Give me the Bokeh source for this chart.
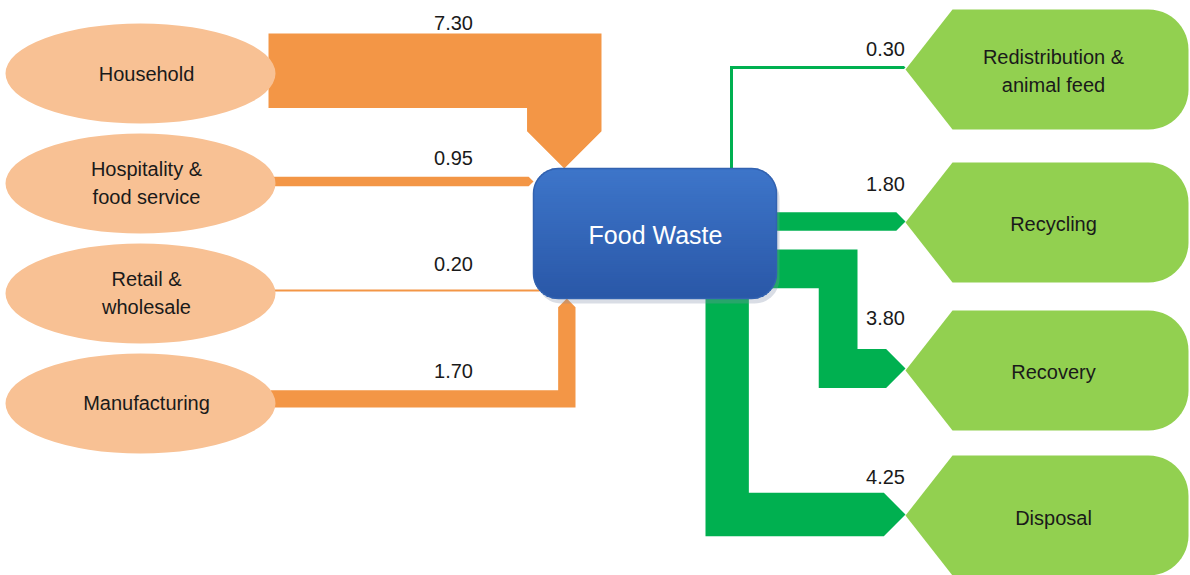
import numpy as np
from bokeh.plotting import figure
from bokeh.models import Range1d
from bokeh.embed import file_html
from bokeh.resources import INLINE
from bokeh.core.properties import value

# ---------------- data ----------------
sources = ["Household", "Hospitality &\nfood service", "Retail &\nwholesale", "Manufacturing"]
source_values = [7.30, 0.95, 0.20, 1.70]
destinations = ["Redistribution &\nanimal feed", "Recycling", "Recovery", "Disposal"]
destination_values = [0.30, 1.80, 3.80, 4.25]
hub_label = "Food Waste"

# ---------------- layout / style ----------------
W, H = 1190, 575
K = 10.2                      # px per unit of flow
FONT = value("Liberation Sans")
ORANGE, PEACH = "#f39646", "#f8c194"
GREEN, LIGHTGREEN = "#00b050", "#92d050"
TXT = "#1a1a1a"

src_y = [73, 183, 293, 403]          # ellipse centres
src_cx, src_w, src_h = 140, 270, 100
box = (533, 168, 776, 298)            # hub x0, y0, x1, y1
dst_y = [69, 222, 370, 515]
dst_tip, dst_d, dst_right, dst_h, dst_r = 905, 47, 1188, 120, 40

p = figure(width=W, height=H, x_range=Range1d(0, W), y_range=Range1d(H, 0),
           output_backend="svg", toolbar_location=None, min_border=0,
           x_axis_location=None, y_axis_location=None)
p.grid.visible = False
p.outline_line_color = None


def arc(cx, cy, r, a0, a1, n=14):
    t = np.radians(np.linspace(a0, a1, n))
    return list(cx + r * np.cos(t)), list(cy + r * np.sin(t))


def rounded_rect(x0, y0, x1, y1, r):
    xs, ys = [], []
    for cx, cy, a0, a1 in [(x0 + r, y0 + r, 180, 270), (x1 - r, y0 + r, 270, 360),
                           (x1 - r, y1 - r, 0, 90), (x0 + r, y1 - r, 90, 180)]:
        ax, ay = arc(cx, cy, r, a0, a1)
        xs += ax
        ys += ay
    return xs, ys


# ---------------- inflows (orange) ----------------
w = [v * K for v in source_values]
bx0, by0, bx1, by1 = box
flows_x, flows_y = [], []
# Household: band along top, drops down into hub top
xl, xr, y0 = 268, 601, 33
wh = w[0]
flows_x.append([xl, xr, xr, xr - wh / 2, xr - wh, xr - wh, xl])
flows_y.append([y0, y0, by0 - wh / 2, by0, by0 - wh / 2, y0 + wh, y0 + wh])
# Hospitality / Retail: straight into hub left
for i, yc, tip in [(1, 181, bx0), (2, 290, 540)]:
    wi = w[i]
    flows_x.append([270, tip - wi / 2, tip, tip - wi / 2, 270])
    flows_y.append([yc - wi / 2, yc - wi / 2, yc, yc + wi / 2, yc + wi / 2])
# Manufacturing: band along bottom, rises into hub bottom
wm = w[3]
xl, xr, yb = 270, 575, 407
flows_x.append([xl, xr, xr, xr - wm / 2, xr - wm, xr - wm, xl])
flows_y.append([yb, yb, by1 + wm / 2, by1, by1 + wm / 2, yb - wm, yb - wm])
p.patches(flows_x, flows_y, fill_color=ORANGE, line_color=None)

# ---------------- outflows (green) ----------------
g = [v * K for v in destination_values]
gx, gy = [], []
# Redistribution: up from hub top then right
xc, yc, wg = 731, dst_y[0] - 2, g[0]
gx.append([xc - wg / 2, xc - wg / 2, dst_tip - wg / 2, dst_tip, dst_tip - wg / 2, xc + wg / 2, xc + wg / 2])
gy.append([by0 + 2, yc - wg / 2, yc - wg / 2, yc, yc + wg / 2, yc + wg / 2, by0 + 2])
# Recycling: straight
yc, wg = dst_y[1] - 1, g[1]
gx.append([bx1 - 6, dst_tip - wg / 2, dst_tip, dst_tip - wg / 2, bx1 - 6])
gy.append([yc - wg / 2, yc - wg / 2, yc, yc + wg / 2, yc + wg / 2])
# Recovery: right, down, right
wg, yt, xv, yc = g[2], 249, 857, dst_y[2] - 2
gx.append([bx1 - 6, xv, xv, dst_tip - wg / 2, dst_tip, dst_tip - wg / 2, xv - wg, xv - wg, bx1 - 6])
gy.append([yt, yt, yc - wg / 2, yc - wg / 2, yc, yc + wg / 2, yc + wg / 2, yt + wg, yt + wg])
# Disposal: down from hub bottom then right
wg, xl, yc = g[3], 705, dst_y[3] - 1
gx.append([xl, xl + wg, xl + wg, dst_tip - wg / 2, dst_tip, dst_tip - wg / 2, xl])
gy.append([by1 - 6, by1 - 6, yc - wg / 2, yc - wg / 2, yc, yc + wg / 2, yc + wg / 2])
p.patches(gx, gy, fill_color=GREEN, line_color=None)

# ---------------- source ellipses ----------------
p.ellipse(x=[src_cx] * len(sources), y=src_y, width=src_w, height=src_h,
          fill_color=PEACH, line_color=None)

# ---------------- hub (rounded box with vertical gradient) ----------------
sx, sy = rounded_rect(bx0 + 3, by0 + 5, bx1 + 3, by1 + 5, 25)
p.patch(sx, sy, fill_color="#8090a8", fill_alpha=0.3, line_color=None)
hx, hy = rounded_rect(bx0, by0, bx1, by1, 25)
p.patch(hx, hy, fill_color="#3565b5", line_color=None)
r = 25
top_c = np.array([62, 118, 202])
bot_c = np.array([42, 88, 168])
qx0, qx1, qy0, qy1, qc = [], [], [], [], []
step = 2
for yy in np.arange(by0, by1, step):
    ym = yy + step / 2
    if ym < by0 + r:
        dy = by0 + r - ym
    elif ym > by1 - r:
        dy = ym - (by1 - r)
    else:
        dy = 0
    inset = r - np.sqrt(max(r * r - dy * dy, 0))
    t = (ym - by0) / (by1 - by0)
    c = (top_c * (1 - t) + bot_c * t).astype(int)
    qx0.append(bx0 + inset); qx1.append(bx1 - inset)
    qy0.append(yy); qy1.append(min(yy + step + 0.6, by1))
    qc.append("#%02x%02x%02x" % tuple(c))
p.quad(left=qx0, right=qx1, top=qy0, bottom=qy1, fill_color=qc, line_color=None)
p.patch(hx, hy, fill_color=None, line_color="#3262b0", line_width=1.5)

# ---------------- destination shapes ----------------
dxs, dys = [], []
for yc in dst_y:
    top, bot = yc - dst_h / 2, yc + dst_h / 2
    xs = [dst_tip, dst_tip + dst_d]
    ys = [yc, top]
    ax, ay = arc(dst_right - dst_r, top + dst_r, dst_r, 270, 360)
    xs += ax; ys += ay
    ax, ay = arc(dst_right - dst_r, bot - dst_r, dst_r, 0, 90)
    xs += ax; ys += ay
    xs += [dst_tip + dst_d]; ys += [bot]
    dxs.append(xs); dys.append(ys)
p.patches(dxs, dys, fill_color=LIGHTGREEN, line_color=None)


# ---------------- texts ----------------
def add_text(xs, ys, labels, size, color, lh=28):
    tx, ty, tt = [], [], []
    for x, y, lab in zip(xs, ys, labels):
        lines = lab.split("\n")
        n = len(lines)
        for i, ln in enumerate(lines):
            tx.append(x)
            ty.append(y + (i - (n - 1) / 2) * lh)
            tt.append(ln)
    p.text(x=tx, y=ty, text=tt, text_font=FONT, text_font_size=size,
           text_color=color, text_align="center", text_baseline="middle")


add_text([146] * 4, [73, 182, 292, 402], sources, "20px", TXT)
add_text([1053] * 4, [70, 223, 371, 517], destinations, "20px", TXT)
add_text([453] * 4, [22, 157, 263, 370], [f"{v:.2f}" for v in source_values], "20px", TXT)
add_text([885] * 4, [48, 183, 317, 476], [f"{v:.2f}" for v in destination_values], "20px", TXT)
add_text([655], [234], [hub_label], "25px", "white")

open("out.html", "w").write(file_html(p, INLINE))
